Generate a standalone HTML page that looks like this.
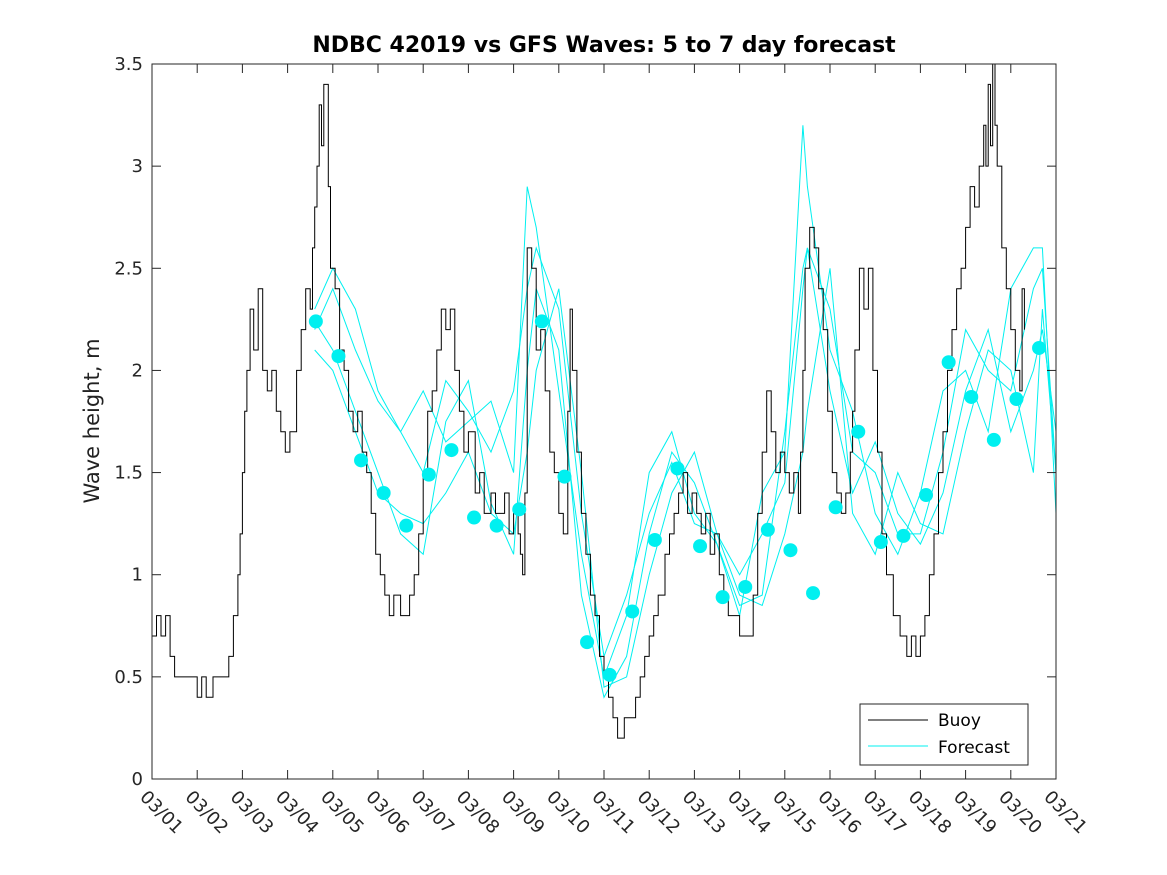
<!DOCTYPE html>
<html><head><meta charset="utf-8">
<style>
html,body{margin:0;padding:0;background:#fff;}
svg{display:block;font-family:"DejaVu Sans","Liberation Sans",sans-serif;}
</style></head>
<body>
<svg id="chart" width="1167" height="875" viewBox="0 0 1167 875">
<rect width="1167" height="875" fill="#fff"/>
<text x="604" y="52" text-anchor="middle" font-size="22" font-weight="bold" fill="#000">NDBC 42019 vs GFS Waves: 5 to 7 day forecast</text>
<text transform="translate(99,421) rotate(-90)" text-anchor="middle" font-size="21" fill="#222">Wave height, m</text>
<g id="grid"></g>
<g id="series"></g>
<rect x="152" y="64" width="904" height="715" fill="none" stroke="#262626" stroke-width="1"/>
<g id="ticks"></g>
<g>
<rect x="860" y="704" width="168" height="61" fill="#fff" stroke="#262626"/>
<line x1="868" y1="720" x2="928" y2="720" stroke="#000"/>
<text x="938" y="726" font-size="17" fill="#000">Buoy</text>
<line x1="868" y1="746" x2="928" y2="746" stroke="#00f0f0"/>
<text x="938" y="753" font-size="17" fill="#000">Forecast</text>
</g>
</svg>
<script>
const xTickLabels=["03/01","03/02","03/03","03/04","03/05","03/06","03/07","03/08","03/09","03/10","03/11","03/12","03/13","03/14","03/15","03/16","03/17","03/18","03/19","03/20","03/21"];
const yTicks=[0,0.5,1,1.5,2,2.5,3,3.5];
const buoyDays=[0,0.1,0.2,0.3,0.4,0.5,0.7,0.9,1.0,1.1,1.2,1.35,1.5,1.6,1.7,1.8,1.9,1.95,2.0,2.05,2.1,2.17,2.25,2.35,2.45,2.55,2.65,2.75,2.85,2.95,3.05,3.2,3.3,3.4,3.5,3.55,3.6,3.65,3.7,3.75,3.8,3.9,3.95,4.05,4.15,4.25,4.35,4.45,4.55,4.65,4.75,4.85,4.95,5.05,5.15,5.25,5.35,5.5,5.6,5.7,5.8,5.9,6.0,6.1,6.2,6.3,6.4,6.5,6.6,6.7,6.8,6.9,7.0,7.15,7.25,7.35,7.5,7.6,7.7,7.8,7.9,8.0,8.1,8.15,8.2,8.25,8.3,8.4,8.5,8.6,8.7,8.8,8.9,9.0,9.1,9.2,9.25,9.3,9.4,9.5,9.6,9.7,9.8,9.9,10.0,10.1,10.2,10.3,10.45,10.6,10.7,10.8,10.9,11.0,11.1,11.2,11.35,11.45,11.55,11.65,11.75,11.85,11.95,12.05,12.15,12.25,12.35,12.45,12.55,12.65,12.75,12.85,13.0,13.1,13.2,13.3,13.4,13.5,13.6,13.7,13.8,13.9,14.0,14.1,14.2,14.3,14.35,14.4,14.45,14.55,14.65,14.75,14.85,14.95,15.05,15.15,15.25,15.35,15.45,15.5,15.55,15.65,15.75,15.85,15.95,16.05,16.15,16.25,16.4,16.55,16.7,16.8,16.9,17.0,17.1,17.2,17.3,17.4,17.5,17.6,17.7,17.8,17.9,18.0,18.1,18.2,18.3,18.4,18.45,18.5,18.55,18.6,18.65,18.7,18.8,18.9,19.0,19.1,19.2,19.25,19.3];
const buoyValues=[0.7,0.8,0.7,0.8,0.6,0.5,0.5,0.5,0.4,0.5,0.4,0.5,0.5,0.5,0.6,0.8,1.0,1.2,1.5,1.8,2.0,2.3,2.1,2.4,2.0,1.9,2.0,1.8,1.7,1.6,1.7,2.0,2.2,2.4,2.3,2.6,2.8,3.0,3.3,3.1,3.4,2.9,2.5,2.4,2.1,2.0,1.8,1.7,1.8,1.6,1.5,1.3,1.1,1.0,0.9,0.8,0.9,0.8,0.8,0.9,1.0,1.2,1.5,1.8,1.9,2.1,2.3,2.2,2.3,2.0,1.8,1.6,1.7,1.4,1.5,1.3,1.4,1.3,1.3,1.4,1.2,1.3,1.2,1.1,1.0,1.4,2.6,2.5,2.1,2.2,1.9,1.6,1.5,1.3,1.2,1.8,2.3,2.0,1.6,1.3,1.1,0.9,0.8,0.6,0.5,0.4,0.3,0.2,0.3,0.3,0.4,0.5,0.6,0.7,0.8,0.9,1.1,1.2,1.3,1.4,1.5,1.3,1.4,1.3,1.2,1.3,1.1,1.2,1.0,0.9,0.8,0.8,0.7,0.7,0.7,0.9,1.3,1.6,1.9,1.7,1.5,1.6,1.5,1.4,1.5,1.3,1.6,2.0,2.5,2.7,2.6,2.4,2.2,1.8,1.5,1.4,1.3,1.4,1.6,1.8,2.1,2.5,2.3,2.5,2.0,1.6,1.2,1.0,0.8,0.7,0.6,0.7,0.6,0.7,0.8,1.0,1.2,1.5,1.7,2.0,2.2,2.4,2.5,2.7,2.9,2.8,3.0,3.2,3.0,3.4,3.1,3.5,3.2,3.0,2.6,2.4,2.2,2.0,1.9,2.4,2.2];
const fcDays=[3.6,4.0,4.5,5.0,5.5,6.0,6.5,7.0,7.5,8.0,8.3,8.5,9.0,9.5,10.0,10.5,11.0,11.5,12.0,12.5,13.0,13.5,14.0,14.4,14.5,15.0,15.5,16.0,16.5,17.0,17.5,18.0,18.5,19.0,19.5,19.7,20.0];
const fc1=[2.2,2.4,2.1,1.85,1.7,1.9,1.65,1.75,1.85,1.5,2.9,2.7,1.9,1.1,0.5,0.8,1.5,1.7,1.3,1.15,0.8,1.4,1.6,3.2,2.9,2.1,1.8,1.3,1.1,1.4,1.9,2.0,1.7,2.4,2.6,2.6,1.3];
const fc2=[2.3,2.5,2.3,1.9,1.7,1.5,1.95,1.8,1.6,1.9,2.4,2.6,2.3,1.3,0.6,0.9,1.3,1.55,1.25,1.2,1.0,1.2,1.45,2.4,2.6,2.3,1.6,1.5,1.2,1.2,1.6,2.2,2.0,1.9,2.4,2.5,1.5];
const fc3=[2.24,2.1,1.8,1.5,1.2,1.1,1.75,1.95,1.35,1.1,2.0,2.4,2.1,0.9,0.4,0.6,1.2,1.6,1.45,1.15,0.85,0.9,1.7,2.5,2.6,1.9,1.4,1.65,1.3,1.15,1.4,1.9,2.2,1.7,2.0,2.2,1.7];
const fc4=[2.1,2.0,1.7,1.4,1.3,1.25,1.4,1.6,1.3,1.2,1.6,2.0,2.4,1.5,0.45,0.5,1.0,1.4,1.6,1.2,0.9,0.85,1.2,1.6,1.8,2.5,1.3,1.1,1.5,1.25,1.2,1.7,2.1,2.0,1.5,2.3,1.5];
const dotDays=[3.625,4.125,4.625,5.125,5.625,6.125,6.625,7.125,7.625,8.125,8.625,9.125,9.625,10.125,10.625,11.125,11.625,12.125,12.625,13.125,13.625,14.125,14.625,15.125,15.625,16.125,16.625,17.125,17.625,18.125,18.625,19.125,19.625];
const dotValues=[2.24,2.07,1.56,1.40,1.24,1.49,1.61,1.28,1.24,1.32,2.24,1.48,0.67,0.51,0.82,1.17,1.52,1.14,0.89,0.94,1.22,1.12,0.91,1.33,1.70,1.16,1.19,1.39,2.04,1.87,1.66,1.86,2.11];

const NS="http://www.w3.org/2000/svg";
const X0=152,X1=1056,Y0=779,Y1=64;
function xs(d){return X0+(X1-X0)*d/20;}
function ys(v){return Y0-(Y0-Y1)*v/3.5;}
function mk(tag,attrs,parent){const e=document.createElementNS(NS,tag);for(const k in attrs)e.setAttribute(k,attrs[k]);parent.appendChild(e);return e;}
const ticks=document.getElementById('ticks');
const series=document.getElementById('series');
xTickLabels.forEach((lab,i)=>{
  const x=xs(i);
  const t=mk('line',{x1:x,y1:Y0,x2:x,y2:Y0-9,stroke:'#262626'},ticks);
  
  
  const t2=mk('line',{x1:x,y1:Y1,x2:x,y2:Y1+9,stroke:'#262626'},ticks);
  
  
  const tx=mk('text',{transform:`translate(${x-13},${Y0+19}) rotate(45)`,'font-size':18,fill:'#262626'},ticks);
  tx.textContent=lab;
  
  
});
yTicks.forEach(v=>{
  const y=ys(v);
  const t=mk('line',{x1:X0,y1:y,x2:X0+9,y2:y,stroke:'#262626'},ticks);
  
  
  const t2=mk('line',{x1:X1,y1:y,x2:X1-9,y2:y,stroke:'#262626'},ticks);
  
  
  const tx=mk('text',{x:X0-9,y:y+6,'text-anchor':'end','font-size':18,fill:'#262626'},ticks);
  tx.textContent=String(v);
  
  
});
[fc1,fc2,fc3,fc4].forEach((arr,k)=>{
  const pts=arr.map((v,i)=>xs(fcDays[i]).toFixed(1)+','+ys(v).toFixed(1)).join(' ');
  const p=mk('polyline',{points:pts,fill:'none',stroke:'#00f0f0','stroke-width':1},series);
  
  
});
{
  let pts=[];
  buoyValues.forEach((v,i)=>{
    pts.push(xs(buoyDays[i]).toFixed(1)+','+ys(v).toFixed(1));
    if(i+1<buoyDays.length)pts.push(xs(buoyDays[i+1]).toFixed(1)+','+ys(v).toFixed(1));
  });
  const p=mk('polyline',{points:pts.join(' '),fill:'none',stroke:'#000','stroke-width':1},series);
  
  
}
dotValues.forEach((v,i)=>{
  const c=mk('circle',{cx:xs(dotDays[i]),cy:ys(v),r:7,fill:'#00f0f0'},series);
  
  
});
</script>
</body></html>
